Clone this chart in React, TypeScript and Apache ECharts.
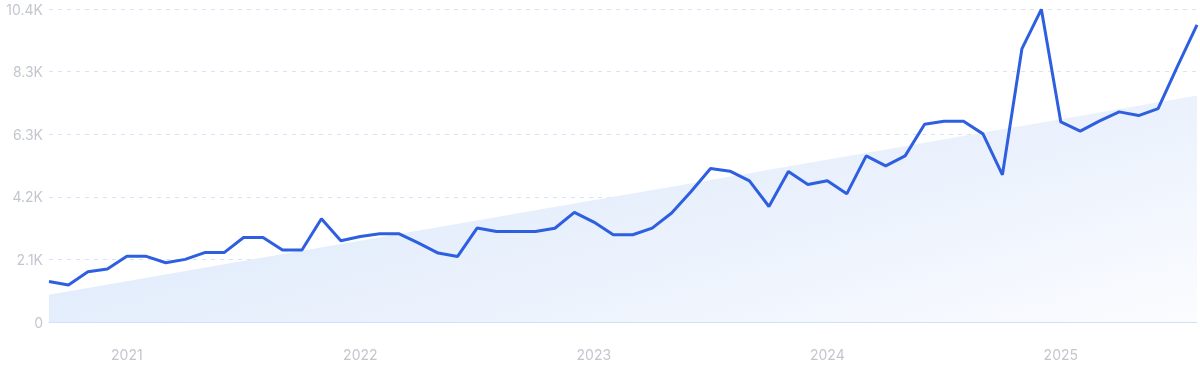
import React, { useEffect, useRef } from "react";
import * as echarts from "echarts";

const months: string[] = [];
for (let y = 2020; y <= 2025; y++) {
  for (let m = 1; m <= 12; m++) {
    if ((y === 2020 && m < 9) || (y === 2025 && m > 8)) continue;
    months.push(`${y}-${String(m).padStart(2, "0")}`);
  }
}

const values: number[] = [
  1350, 1235, 1670, 1765, 2185, 2185, 1972, 2085, 2310, 2310, 2814, 2814,
  2395, 2395, 3436, 2706, 2845, 2935, 2935, 2625, 2295, 2182, 3126, 3015,
  3013, 3013, 3120, 3650, 3326, 2904, 2904, 3126, 3630, 4345, 5109, 5022,
  4700, 3845, 5009, 4577, 4700, 4267, 5531, 5199, 5531, 6586, 6680, 6685,
  6263, 4899, 9090, 10410, 6662, 6353, 6695, 6995, 6872, 7104, 8520, 9888,
];

const trendStart = 910;
const trendEnd = 7540;

const yTickLabels = ["0", "2.1K", "4.2K", "6.3K", "8.3K", "10.4K"];
const yMax = 10420;
const yInterval = 2084;

export default function App() {
  const ref = useRef<HTMLDivElement>(null);
  useEffect(() => {
    if (!ref.current) return;
    const chart = echarts.init(ref.current, null, { renderer: "svg" });
    const font = "Inter, 'Noto Sans', sans-serif";
    chart.setOption({
      animation: false,
      grid: { left: 49, right: 3, top: 9, bottom: 49, containLabel: false },
      xAxis: {
        type: "category",
        data: months,
        boundaryGap: false,
        axisLine: { show: true, lineStyle: { color: "#cfe2fb", width: 1 } },
        axisTick: { show: false },
        splitLine: { show: false },
        axisLabel: {
          interval: (i: number) => (i - 4) % 12 === 0 && i >= 4,
          formatter: (v: string) => v.slice(0, 4),
          color: "#c3c6ce",
          fontSize: 14,
          fontFamily: font,
          margin: 25,
        },
      },
      yAxis: {
        type: "value",
        min: 0,
        max: yMax,
        interval: yInterval,
        axisLine: { show: false },
        axisTick: { show: false },
        splitLine: {
          show: true,
          lineStyle: { color: "#d5e4f8", type: [4, 5], width: 1 },
        },
        axisLabel: {
          formatter: (v: number) => yTickLabels[Math.round(v / yInterval)] ?? "",
          color: "#c3c6ce",
          fontSize: 14,
          fontFamily: font,
          margin: 6,
        },
      },
      series: [
        {
          type: "line",
          data: [
            [0, trendStart],
            [months.length - 1, trendEnd],
          ],
          symbol: "none",
          lineStyle: { width: 0 },
          areaStyle: {
            opacity: 1,
            color: new echarts.graphic.LinearGradient(0, 0.3, 1, 1, [
              { offset: 0, color: "#dbe8fa" },
              { offset: 0.6, color: "#edf3fd" },
              { offset: 1, color: "#fbfcff" },
            ]),
          },
          silent: true,
          z: 1,
        },
        {
          type: "line",
          data: values,
          symbol: "none",
          lineStyle: { color: "#2d5fe0", width: 3 },
          z: 3,
        },
      ],
    });
    return () => chart.dispose();
  }, []);
  return (
    <div
      ref={ref}
      style={{ position: "fixed", left: 0, top: 0, width: 1200, height: 371 }}
    />
  );
}
